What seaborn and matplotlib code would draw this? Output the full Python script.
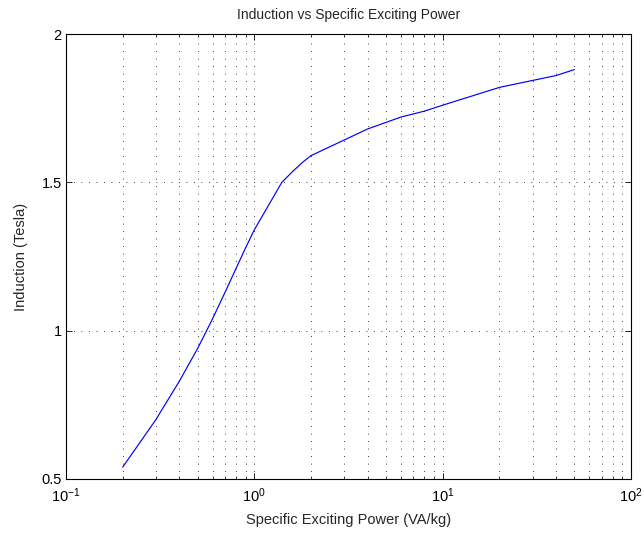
import matplotlib
matplotlib.use("Agg")
import matplotlib.pyplot as plt
import seaborn as sns
import pandas as pd
import numpy as np
from matplotlib.ticker import LogLocator, FixedLocator

# Data
power = [0.2, 0.3, 0.4, 0.5, 0.6, 0.7, 0.8, 0.9, 1.0, 1.4, 1.6, 1.8, 2.0,
         4.0, 6.0, 8.0, 10.0, 20.0, 40.0, 50.0]
induction = [0.54, 0.70, 0.83, 0.94, 1.04, 1.13, 1.21, 1.28, 1.34, 1.50,
             1.537, 1.567, 1.59, 1.68, 1.72, 1.74, 1.76, 1.82, 1.86, 1.88]
y_ticks = [0.5, 1.0, 1.5, 2.0]
y_tick_labels = ["0.5", "1", "1.5", "2"]

title = "Induction vs Specific Exciting Power"
xlabel = "Specific Exciting Power (VA/kg)"
ylabel = "Induction (Tesla)"

sns.set_style("white")
plt.rcParams["font.family"] = ["Liberation Sans", "DejaVu Sans"]
plt.rcParams["mathtext.fontset"] = "custom"
plt.rcParams["mathtext.rm"] = "Liberation Sans"
plt.rcParams["mathtext.it"] = "Liberation Sans"
plt.rcParams["mathtext.default"] = "regular"

df = pd.DataFrame({"power": power, "induction": induction})

fig = plt.figure(figsize=(6.44, 5.33), dpi=100)
ax = fig.add_axes([66 / 644, 1 - 479 / 533, (631 - 66) / 644, (479 - 34) / 533])

sns.lineplot(data=df, x="power", y="induction", ax=ax, color="#0000ff",
             linewidth=0.85, sort=False, estimator=None)

ax.set_xscale("log")
ax.set_xlim(0.1, 100)
ax.set_ylim(0.5, 2.0)
ax.yaxis.set_major_locator(FixedLocator(y_ticks))
ax.set_yticklabels(y_tick_labels)
ax.xaxis.set_major_locator(LogLocator(base=10, numticks=10))
ax.xaxis.set_minor_locator(LogLocator(base=10, subs=np.arange(2, 10), numticks=20))

grid_style = dict(color="black", linewidth=0.6, linestyle=(0, (1, 8)))
ax.grid(True, which="major", axis="both", **grid_style)
ax.grid(True, which="minor", axis="x", **grid_style)

for s in ax.spines.values():
    s.set_visible(True)
    s.set_color("black")
    s.set_linewidth(0.8)

ax.tick_params(which="both", direction="in", top=True, right=True,
               bottom=True, left=True, colors="black", labelsize=10.5)
ax.tick_params(which="major", length=4, width=0.6)
ax.tick_params(which="minor", length=2, width=0.5)
ax.tick_params(axis="x", which="major", pad=5)
ax.tick_params(axis="y", which="major", pad=3)

ax.set_title(title, fontsize=10, pad=11)
ax.set_xlabel(xlabel, fontsize=10.5, labelpad=6)
ax.set_ylabel(ylabel, fontsize=10.5, labelpad=10)

fig.savefig("out.png", dpi=100)
